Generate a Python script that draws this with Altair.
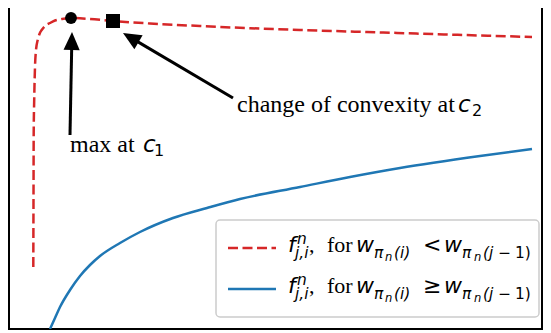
import math
import altair as alt
import pandas as pd

# ---- data ----
X_DOMAIN = [0, 106.6]
Y_DOMAIN = [0, 65.8]
W, H = 533, 329

red_x = [4.86, 4.9, 4.94, 5.04, 5.2, 5.4, 5.74, 6.1, 6.54, 7.2, 8.2, 9.2, 10.6, 12.4,
         16.2, 20.8, 28.2, 38.2, 48.2, 58.2, 71.6, 88.2, 104.6]
red_y = [12.4, 25.8, 39.2, 45.8, 52.4, 55.8, 57.8, 59.0, 59.8, 60.6, 61.2, 61.7, 62.0, 62.2,
         62.0, 61.6, 61.1, 60.6, 60.16, 59.8, 59.4, 58.88, 58.4]

blue_x = [8.2, 9.2, 10.2, 12.2, 14.2, 16.2, 18.2, 22.2, 26.2, 32.8, 39.6, 46.2, 58.2,
          68.2, 78.2, 94.2, 104.6]
blue_y = [0.0, 2.2, 4.4, 7.8, 10.6, 12.8, 14.6, 17.2, 19.4, 22.2, 24.2, 26.0, 28.4,
          30.4, 32.2, 34.6, 36.0]

c1_x, c1_y = [12.4], [62.2]
c2_x, c2_y = [20.8], [61.6]

arrow_tail_x = [12.2, 44.8]
arrow_tail_y = [38.8, 46.2]
arrow_tip_x = [12.6, 22.8]
arrow_tip_y = [59.4, 59.2]

ann_text = ["max at", "change of convexity at"]
ann_x = [12.2, 45.6]
ann_y = [35.4, 43.4]
ann_c_x = [26.8, 89.8]
ann_sub = ["1", "2"]
ann_sub_x = [29.0, 92.6]

legend_box_x = [41.4, 106.0]
legend_box_y = [2.4, 21.8]
legend_line_x = [43.8, 53.4]
legend_line_y = [16.2, 8.0]
legend_base_y = [15.4, 7.2]
legend_rel = ["<", "≥"]

# label pieces: text, x, level, style
piece_text = ["f", "n", "j,i", ",", "for", "w", "π", "n", "(i)", "REL", "w", "π", "n", "(j − ", "1)"]
piece_x = [55.8, 57.6, 57.2, 60.0, 63.6, 69.4, 73.0, 75.2, 77.0, 82.8, 87.0, 90.6, 93.0, 94.8, 101.2]
piece_level = ["main", "sup", "sub", "main", "main", "main", "sub", "subsub", "sub", "main",
               "main", "sub", "subsub", "sub", "sub"]
piece_style = ["ital", "ital", "ital", "serif", "serif", "ital", "ital", "ital", "ital", "sans",
               "ital", "ital", "ital", "ital", "sans"]

# ---- styling ----
RED = "#d62728"
BLUE = "#1f77b4"
LEVEL_OFFSET = {"main": 0.0, "sup": -8.0, "sub": 6.0, "subsub": 9.0}   # px, downward
LEVEL_SIZE = {"main": 22, "sup": 15.4, "sub": 15.4, "subsub": 11.5}
SERIF = "Liberation Serif, Times New Roman, serif"
SANS = "DejaVu Sans"

ppx = W / (X_DOMAIN[1] - X_DOMAIN[0])
ppy = H / (Y_DOMAIN[1] - Y_DOMAIN[0])

xs = alt.Scale(domain=X_DOMAIN, nice=False, zero=False)
ys = alt.Scale(domain=Y_DOMAIN, nice=False, zero=False)


def X(f="x"):
    return alt.X(f"{f}:Q", scale=xs, axis=None)


def Y(f="y"):
    return alt.Y(f"{f}:Q", scale=ys, axis=None)


# ---- curves ----
red = alt.Chart(pd.DataFrame({"x": red_x, "y": red_y})).mark_line(
    color=RED, strokeWidth=2.5, strokeDash=[10, 4.5], interpolate="monotone", clip=True
).encode(x=X(), y=Y())

blue = alt.Chart(pd.DataFrame({"x": blue_x, "y": blue_y})).mark_line(
    color=BLUE, strokeWidth=2.5, interpolate="monotone", clip=True
).encode(x=X(), y=Y())

circle = alt.Chart(pd.DataFrame({"x": c1_x, "y": c1_y})).mark_point(
    shape="circle", filled=True, color="black", size=140, opacity=1
).encode(x=X(), y=Y())

square = alt.Chart(pd.DataFrame({"x": c2_x, "y": c2_y})).mark_point(
    shape="square", filled=True, color="black", size=196, opacity=1
).encode(x=X(), y=Y())

# ---- arrows ----
rows = []
for sx, sy, tx, ty in zip(arrow_tail_x, arrow_tail_y, arrow_tip_x, arrow_tip_y):
    dxp = (tx - sx) * ppx
    dyp = (ty - sy) * ppy
    L = math.hypot(dxp, dyp)
    f = 1 - 10 / L
    ang = math.degrees(math.atan2(dxp, dyp)) % 360
    rows.append({"x": sx, "y": sy, "x2": sx + f * (tx - sx), "y2": sy + f * (ty - sy),
                 "tx": tx, "ty": ty, "ang": ang})
arr = pd.DataFrame(rows)

shafts = alt.Chart(arr).mark_rule(color="black", strokeWidth=3).encode(
    x=X(), y=Y(), x2="x2:Q", y2="y2:Q")

heads = alt.Chart(arr).mark_point(
    shape="M0,0L0.9,2L-0.9,2Z", filled=True, color="black", size=324, opacity=1
).encode(x=X("tx"), y=Y("ty"), angle=alt.Angle("ang:Q", scale=None))

# ---- annotation text ----
serif_rows = [{"x": x, "y": y, "t": t, "s": 24} for x, y, t in zip(ann_x, ann_y, ann_text)]
ital_rows = [{"x": x, "y": y, "t": "c", "s": 23} for x, y in zip(ann_c_x, ann_y)]
sans_rows = [{"x": x, "y": y - 3.5 / ppy, "t": t, "s": 16} for x, y, t in zip(ann_sub_x, ann_y, ann_sub)]

# ---- legend ----
box = alt.Chart(pd.DataFrame({"x": [legend_box_x[0]], "x2": [legend_box_x[1]],
                              "y": [legend_box_y[0]], "y2": [legend_box_y[1]]})).mark_rect(
    fill="white", fillOpacity=0.8, stroke="#cccccc", strokeWidth=1.5, cornerRadius=4
).encode(x=X(), x2="x2:Q", y=Y(), y2="y2:Q")

leg_red = alt.Chart(pd.DataFrame({"x": [legend_line_x[0]], "x2": [legend_line_x[1]],
                                  "y": [legend_line_y[0]]})).mark_rule(
    color=RED, strokeWidth=2.5, strokeDash=[10, 4.5]
).encode(x=X(), x2="x2:Q", y=Y())

leg_blue = alt.Chart(pd.DataFrame({"x": [legend_line_x[0]], "x2": [legend_line_x[1]],
                                   "y": [legend_line_y[1]]})).mark_rule(
    color=BLUE, strokeWidth=2.5
).encode(x=X(), x2="x2:Q", y=Y())

for base, rel in zip(legend_base_y, legend_rel):
    for t, x, lev, sty in zip(piece_text, piece_x, piece_level, piece_style):
        txt = rel if t == "REL" else t
        row = {"x": x, "y": base - LEVEL_OFFSET[lev] / ppy, "t": txt, "s": LEVEL_SIZE[lev]}
        if sty == "serif":
            serif_rows.append(row)
        elif sty == "ital":
            ital_rows.append(row)
        else:
            sans_rows.append(row)


def text_layer(rows_, font, style):
    return alt.Chart(pd.DataFrame(rows_)).mark_text(
        font=font, fontStyle=style, align="left", baseline="alphabetic", color="black"
    ).encode(x=X(), y=Y(), text="t:N", size=alt.Size("s:Q", scale=None))


serif_txt = text_layer(serif_rows, SERIF, "normal")
ital_txt = text_layer(ital_rows, SANS, "italic")
sans_txt = text_layer(sans_rows, SANS, "normal")

chart = alt.layer(
    blue, red, circle, square, shafts, heads,
    box, leg_red, leg_blue, serif_txt, ital_txt, sans_txt
).properties(
    width=W, height=H,
    padding={"left": 1, "top": -8, "right": 1, "bottom": 2},
    autosize=alt.AutoSizeParams(type="none"),
).configure_view(stroke="black", strokeWidth=2)

chart.save("out.html", embed_options={"renderer": "svg", "actions": False})
